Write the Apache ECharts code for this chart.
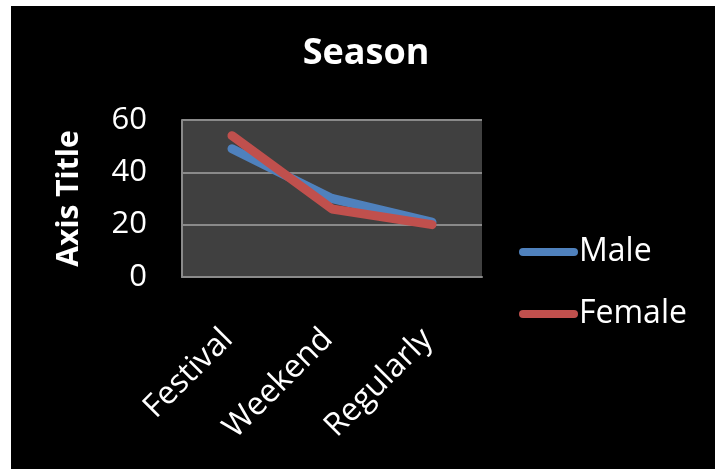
<!DOCTYPE html>
<html>
<head>
<meta charset="utf-8">
<script src="https://cdn.jsdelivr.net/npm/echarts@6/dist/echarts.min.js"></script>
<style>
  html, body { margin: 0; padding: 0; background: #ffffff; width: 715px; height: 469px; overflow: hidden; }
  #chart { position: absolute; left: 11px; top: 6px; width: 704px; height: 463px; }
</style>
</head>
<body>
<div id="chart"></div>
<script>
// Visit frequency by season, per gender
const categories = ['Festival', 'Weekend', 'Regularly'];
const maleValues = [49, 30, 21];
const femaleValues = [54, 26, 20];
const yTicks = [0, 20, 40, 60];

const FONT = '"Open Sans", "DejaVu Sans", sans-serif';
const GRID_GRAY = '#8a8a8a';

const chart = echarts.init(document.getElementById('chart'), null, { renderer: 'canvas' });

// rounded bar used as the legend's line swatch
const linePath = 'path://M4,0 H55 A4,4 0 0 1 55,8 H4 A4,4 0 0 1 4,0 Z';

chart.setOption({
  backgroundColor: '#000000',
  animation: false,
  title: {
    text: 'Season',
    left: 350,
    top: 25,
    textAlign: 'center',
    textStyle: { color: '#ffffff', fontFamily: FONT, fontWeight: 'bold', fontSize: 36 }
  },
  legend: {
    orient: 'vertical',
    left: 503,
    top: 225,
    itemWidth: 59,
    itemHeight: 8,
    itemGap: 30,
    icon: linePath,
    textStyle: { color: '#ffffff', fontFamily: FONT, fontSize: 32, lineHeight: 31, padding: [0, 0, 0, -4] },
    data: ['Male', 'Female']
  },
  grid: {
    left: 171,
    top: 114,
    width: 300,
    height: 157,
    show: true,
    backgroundColor: '#404040',
    borderWidth: 0
  },
  xAxis: {
    type: 'category',
    data: categories,
    boundaryGap: true,
    axisLine: { show: true, lineStyle: { color: GRID_GRAY, width: 2 } },
    axisTick: { show: false },
    axisLabel: {
      rotate: 45,
      margin: 53,
      padding: [0, 6, 0, 0],
      color: '#ffffff',
      fontFamily: FONT,
      fontSize: 32
    }
  },
  yAxis: {
    type: 'value',
    min: yTicks[0],
    max: yTicks[yTicks.length - 1],
    interval: yTicks[1] - yTicks[0],
    name: 'Axis Title',
    nameLocation: 'middle',
    nameRotate: 90,
    nameGap: 98,
    nameTextStyle: { color: '#ffffff', fontFamily: FONT, fontWeight: 'bold', fontSize: 30 },
    axisLine: { show: true, lineStyle: { color: GRID_GRAY, width: 2 } },
    axisTick: { show: false },
    splitLine: { show: true, lineStyle: { color: GRID_GRAY, width: 2 } },
    axisLabel: {
      margin: 35,
      color: '#ffffff',
      fontFamily: FONT,
      fontSize: 31
    }
  },
  series: [
    {
      name: 'Male',
      type: 'line',
      data: maleValues,
      showSymbol: false,
      symbol: 'none',
      color: '#4F81BD',
      lineStyle: { color: '#4F81BD', width: 9, cap: 'round', join: 'round' }
    },
    {
      name: 'Female',
      type: 'line',
      data: femaleValues,
      showSymbol: false,
      symbol: 'none',
      color: '#C0504D',
      lineStyle: { color: '#C0504D', width: 9, cap: 'round', join: 'round' }
    }
  ]
});
</script>
</body>
</html>
